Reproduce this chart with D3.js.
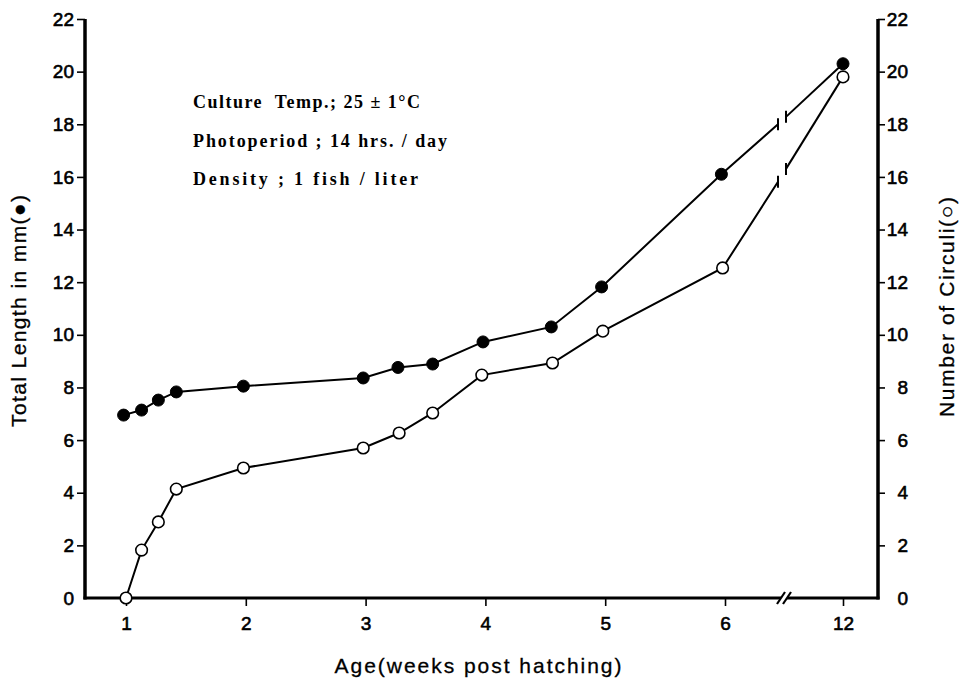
<!DOCTYPE html>
<html>
<head>
<meta charset="utf-8">
<script src="https://cdn.jsdelivr.net/npm/d3@7"></script>
<style>
  body { margin: 0; background: #fff; }
  svg { display: block; }
</style>
</head>
<body>
<div id="graph"></div>
<script>
const lengthAge = [0.98, 1.13, 1.27, 1.42, 1.98, 2.98, 3.27, 3.56, 3.98, 4.55, 4.97, 5.97, 12];
const lengthMm  = [6.95, 7.14, 7.52, 7.83, 8.05, 8.36, 8.76, 8.89, 9.73, 10.3, 11.82, 16.1, 20.3];

const circuliAge   = [1.0, 1.13, 1.27, 1.42, 1.98, 2.98, 3.28, 3.56, 3.97, 4.56, 4.98, 5.98, 12];
const circuliCount = [0, 1.82, 2.89, 4.14, 4.94, 5.7, 6.27, 7.03, 8.47, 8.93, 10.14, 12.54, 19.8];

const ageTicks = [1, 2, 3, 4, 5, 6, 12];
const valueTicks = [0, 2, 4, 6, 8, 10, 12, 14, 16, 18, 20, 22];
const notes = ["Culture  Temp.; 25 \u00b1 1\u00b0C", "Photoperiod ; 14 hrs. / day", "Density ; 1 fish / liter"];
const noteWidths = [227, 254, 225];

const width = 962, height = 681;
const margin = { top: 19, right: 84, bottom: 83, left: 85 };
const x0 = margin.left, x1 = width - margin.right;
const yBase = height - margin.bottom;

const svg = d3.select("#graph").append("svg")
    .attr("width", width)
    .attr("height", height);

// broken x scale: weeks 1..6 evenly spaced, then a jump to 12
const x = d3.scaleLinear()
    .domain([1, 6, 12])
    .range([126, 725, 843]);

const y = d3.scaleLinear()
    .domain([0, 22])
    .range([yBase, margin.top]);

const labelFont = "'Liberation Sans', Arial, sans-serif";

// left axis
const gLeft = svg.append("g")
    .attr("transform", `translate(${x0},0)`)
    .call(d3.axisLeft(y).tickValues(valueTicks).tickSize(8).tickSizeOuter(0).tickPadding(3));

// right axis
const gRight = svg.append("g")
    .attr("transform", `translate(${x1},0)`)
    .call(d3.axisRight(y).tickValues(valueTicks).tickSize(7).tickSizeOuter(0).tickPadding(3));
gRight.selectAll(".tick text").attr("x", 30).attr("text-anchor", "end");

// bottom axis
const gBottom = svg.append("g")
    .attr("transform", `translate(0,${yBase})`)
    .call(d3.axisBottom(x).tickValues(ageTicks).tickSize(8).tickSizeOuter(0).tickPadding(11));

[gLeft, gRight, gBottom].forEach(g => {
    g.select(".domain").remove();
    g.selectAll(".tick line").attr("stroke", "#000").attr("stroke-width", 1.6);
    g.selectAll(".tick text")
        .attr("fill", "#000")
        .style("font-family", labelFont)
        .style("font-size", "19px")
        .style("stroke", "#000")
        .style("stroke-width", "0.6px");
});
gLeft.selectAll(".tick").filter(d => d === 0).select("line").remove();
gRight.selectAll(".tick").filter(d => d === 0).select("line").remove();

// heavy axis frame
const axisW = 3.5;
svg.append("line").attr("x1", x0).attr("x2", x0).attr("y1", margin.top).attr("y2", yBase + 1.5)
    .attr("stroke", "#000").attr("stroke-width", axisW);
svg.append("line").attr("x1", x1).attr("x2", x1).attr("y1", margin.top).attr("y2", yBase + 1.5)
    .attr("stroke", "#000").attr("stroke-width", axisW);

const gapL = 781, gapR = 787;
svg.append("line").attr("x1", x0 - 1.5).attr("x2", gapL).attr("y1", yBase).attr("y2", yBase)
    .attr("stroke", "#000").attr("stroke-width", 3);
svg.append("line").attr("x1", gapR).attr("x2", x1 + 1.5).attr("y1", yBase).attr("y2", yBase)
    .attr("stroke", "#000").attr("stroke-width", 3);
[-3, 3].forEach(dx => {
    svg.append("line")
        .attr("x1", 780 + dx).attr("y1", yBase + 6)
        .attr("x2", 788 + dx).attr("y2", yBase - 6)
        .attr("stroke", "#000").attr("stroke-width", 2.2);
});

// series lines, with the 6 -> 12 segment broken
const brkA = x.invert(778), brkB = x.invert(786);

function drawSeries(ages, vals, filled) {
    const pts = ages.map((a, i) => [a, vals[i]]);
    const last = pts[pts.length - 1], prev = pts[pts.length - 2];
    const lerp = t => prev[1] + (last[1] - prev[1]) * (t - prev[0]) / (last[0] - prev[0]);
    const partA = pts.slice(0, -1).concat([[brkA, lerp(brkA)]]);
    const partB = [[brkB, lerp(brkB)], last];

    const line = d3.line().x(d => x(d[0])).y(d => y(d[1]));
    [partA, partB].forEach(p => {
        svg.append("path")
            .attr("d", line(p))
            .attr("fill", "none")
            .attr("stroke", "#000")
            .attr("stroke-width", 2);
    });
    // little bars at the break
    [brkA, brkB].forEach(b => {
        svg.append("line")
            .attr("x1", x(b)).attr("x2", x(b))
            .attr("y1", y(lerp(b)) - 6).attr("y2", y(lerp(b)) + 6)
            .attr("stroke", "#000").attr("stroke-width", 2);
    });

    svg.append("g").selectAll("circle")
        .data(pts)
        .enter()
        .append("circle")
        .attr("cx", d => x(d[0]))
        .attr("cy", d => y(d[1]))
        .attr("r", filled ? 6 : 5.8)
        .attr("fill", filled ? "#000" : "#fff")
        .attr("stroke", "#000")
        .attr("stroke-width", filled ? 1 : 1.6);
}

drawSeries(circuliAge, circuliCount, false);
drawSeries(lengthAge, lengthMm, true);

// axis titles
function title(txt, len) {
    return svg.append("text")
        .attr("text-anchor", "middle")
        .attr("textLength", len)
        .attr("lengthAdjust", "spacing")
        .style("font-family", labelFont)
        .style("font-size", "21px")
        .style("stroke", "#000")
        .style("stroke-width", "0.3px")
        .text(txt);
}
title("Total Length in mm(\u25cf)", 232)
    .attr("transform", "translate(26,311) rotate(-90)");
title("Number of Circuli(\u25cb)", 220)
    .attr("transform", "translate(954,307) rotate(-90)");
title("Age(weeks post hatching)", 287)
    .attr("x", 478)
    .attr("y", 673);

// culture conditions
svg.append("g").selectAll("text")
    .data(notes)
    .enter()
    .append("text")
    .attr("x", 193)
    .attr("y", (d, i) => 108 + i * 38.5)
    .attr("textLength", (d, i) => noteWidths[i])
    .attr("lengthAdjust", "spacing")
    .style("white-space", "pre")
    .style("font-family", "'Liberation Serif', 'Times New Roman', serif")
    .style("font-weight", "bold")
    .style("font-size", "18px")
    .text(d => d);
</script>
</body>
</html>
